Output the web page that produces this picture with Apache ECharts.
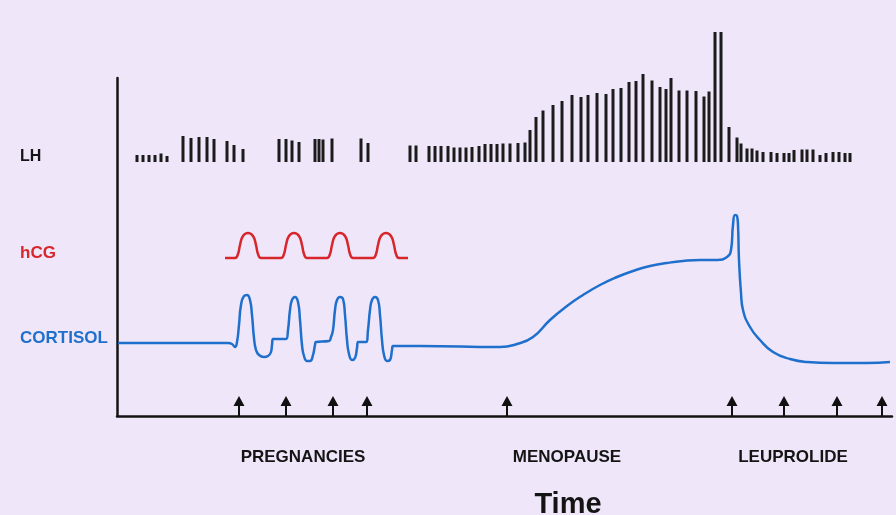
<!DOCTYPE html>
<html>
<head>
<meta charset="utf-8">
<script src="https://cdn.jsdelivr.net/npm/echarts@6/dist/echarts.min.js"></script>
<style>
  html, body { margin: 0; padding: 0; background: #efe7f9; }
  #chart { width: 896px; height: 515px; }
</style>
</head>
<body>
<div id="chart"></div>
<script>
// time runs 0..775 (arbitrary units), levels are arbitrary units
const lhTime = [20, 26, 32, 38, 44, 50,
  66, 74, 82, 90, 97, 110, 117, 126,
  162, 169, 175, 182, 198, 202, 206, 215, 244, 251,
  293, 299, 312, 318, 324, 331, 337, 343, 349, 355, 362, 368, 374, 380, 386, 393, 401, 408,
  413, 419, 426, 436, 445, 455, 464, 471, 480, 489, 496, 504, 512, 519, 526, 535, 543, 549,
  554, 562, 570, 579, 587, 592, 598, 604,
  612, 620, 624, 630, 635, 640, 646, 654, 660, 667, 672, 677, 685, 690, 696, 703, 709, 716, 722, 728, 733];
const lhLevel = [7, 7, 7, 7, 8.5, 6,
  26, 24, 25, 25, 23, 21, 17, 13,
  23, 23, 21.5, 20, 23, 23, 22.5, 23.5, 23.5, 19,
  16.5, 16.5, 16, 16, 16, 16, 14.5, 14.5, 14.5, 15, 16, 18, 18, 18, 18.5, 18.5, 19, 19.5,
  32, 45, 51.5, 57, 61, 67, 65, 67, 69, 68, 73, 74, 80, 81, 88, 81.5, 75, 73,
  84, 71.5, 71.5, 71, 65.5, 70.5, 130, 130,
  35, 24.5, 18.5, 13.5, 13.5, 11.5, 10, 10, 9, 9, 9, 12, 12.5, 12.5, 12.5, 7, 9, 10, 10, 9, 9];

const hcg = [[108, 158], [118, 158], [121, 162], [123, 171], [126, 180], [131, 183], [136, 180], [139, 171], [141, 162], [144, 158],
  [164, 158], [167, 162], [169, 171], [172, 180], [177, 183], [182, 180], [185, 171], [187, 162], [190, 158],
  [210, 158], [213, 162], [215, 171], [218, 180], [223, 183], [228, 180], [231, 171], [233, 162], [236, 158],
  [256, 158], [259, 162], [261, 171], [264, 180], [269, 183], [274, 180], [277, 171], [279, 162], [282, 158], [291, 158]];

const cortisol = [[1, 73], [111, 73], [115, 72], [118, 69], [120, 74], [122, 91], [124, 111], [127, 120], [130, 121], [133, 116],
  [135, 101], [137, 78], [139, 66], [142, 61], [147, 59], [151, 60], [154, 64], [155, 71], [156, 77], [169, 77],
  [171, 86], [173, 106], [175, 116], [178, 119], [181, 114], [183, 96], [185, 71], [187, 60], [190, 55], [193, 55],
  [196, 61], [198, 71], [199, 74], [212, 75], [214, 79], [216, 86], [218, 106], [220, 116], [223, 119], [226, 117],
  [228, 101], [230, 76], [232, 62], [235, 56], [238, 58], [240, 68], [241, 74], [249, 74], [251, 86], [253, 106],
  [255, 116], [258, 119], [261, 116], [263, 101], [265, 76], [267, 61], [270, 55], [273, 56], [275, 66], [276, 70],
  [303, 70], [383, 69], [400, 72], [416, 79], [433, 96], [450, 110], [466, 121], [483, 131], [500, 139], [516, 145],
  [533, 150], [550, 153], [566, 155], [583, 156], [600, 156], [610, 159], [614, 166], [616, 191], [618, 201], [620, 200],
  [621, 191], [622, 156], [624, 123], [626, 106], [633, 89], [643, 76], [656, 64], [673, 57], [690, 54], [716, 53],
  [750, 53], [773, 54]];

const arrowTimes = [122, 169, 216, 250, 390, 615, 667, 720, 765];

const hormoneLabels = ['LH', 'hCG', 'CORTISOL'];
const eventLabels = ['PREGNANCIES', 'MENOPAUSE', 'LEUPROLIDE'];
const timeLabel = 'Time';

const chart = echarts.init(document.getElementById('chart'));

const font = 'Liberation Sans, Arial, sans-serif';
const axisStyle = { show: true, onZero: false, lineStyle: { color: '#141414', width: 2.5 } };

chart.setOption({
  backgroundColor: '#efe7f9',
  animation: false,
  grid: [
    { left: 117, right: 4, top: 78, bottom: 99 },
    { left: 117, right: 4, top: 32, bottom: 353 }
  ],
  xAxis: [
    { type: 'value', gridIndex: 0, min: 0, max: 775, axisLine: axisStyle,
      axisTick: { show: false }, axisLabel: { show: false }, splitLine: { show: false } },
    { type: 'value', gridIndex: 1, min: 0, max: 775, show: false }
  ],
  yAxis: [
    { type: 'value', gridIndex: 0, min: 0, max: 338, axisLine: axisStyle,
      axisTick: { show: false }, axisLabel: { show: false }, splitLine: { show: false } },
    { type: 'value', gridIndex: 1, min: 0, max: 130, show: false }
  ],
  series: [
    {
      name: 'LH', type: 'bar', xAxisIndex: 1, yAxisIndex: 1, barWidth: 3,
      itemStyle: { color: '#1b1b1b' },
      data: lhTime.map((t, i) => [t, lhLevel[i]])
    },
    {
      name: 'hCG', type: 'line', smooth: 0.5, showSymbol: false,
      lineStyle: { color: '#d7262c', width: 2.5 }, data: hcg
    },
    {
      name: 'CORTISOL', type: 'line', smooth: 0.5, showSymbol: false,
      lineStyle: { color: '#1f6fcc', width: 2.5 }, data: cortisol
    },
    {
      name: 'events', type: 'scatter', clip: false,
      symbol: 'path://M5.5,0 L11,10 L6.5,10 L6.5,20 L4.5,20 L4.5,10 L0,10 Z',
      symbolSize: [11, 20], symbolOffset: [0, '-50%'],
      itemStyle: { color: '#111', opacity: 1 },
      data: arrowTimes.map(t => [t, 0])
    }
  ],
  graphic: [
    { type: 'text', x: 20, y: 157, style: { text: hormoneLabels[0], fill: '#141414', font: 'bold 16px ' + font, verticalAlign: 'middle' } },
    { type: 'text', x: 20, y: 253, style: { text: hormoneLabels[1], fill: '#d7262c', font: 'bold 17px ' + font, verticalAlign: 'middle' } },
    { type: 'text', x: 20, y: 338, style: { text: hormoneLabels[2], fill: '#1f6fcc', font: 'bold 17px ' + font, verticalAlign: 'middle' } },
    { type: 'text', x: 303, y: 457, style: { text: eventLabels[0], fill: '#141414', font: 'bold 17px ' + font, align: 'center', verticalAlign: 'middle' } },
    { type: 'text', x: 567, y: 457, style: { text: eventLabels[1], fill: '#141414', font: 'bold 17px ' + font, align: 'center', verticalAlign: 'middle' } },
    { type: 'text', x: 793, y: 457, style: { text: eventLabels[2], fill: '#141414', font: 'bold 17px ' + font, align: 'center', verticalAlign: 'middle' } },
    { type: 'text', x: 568, y: 505, style: { text: timeLabel, fill: '#141414', font: 'bold 29px ' + font, align: 'center', verticalAlign: 'middle' } }
  ]
});
</script>
</body>
</html>
